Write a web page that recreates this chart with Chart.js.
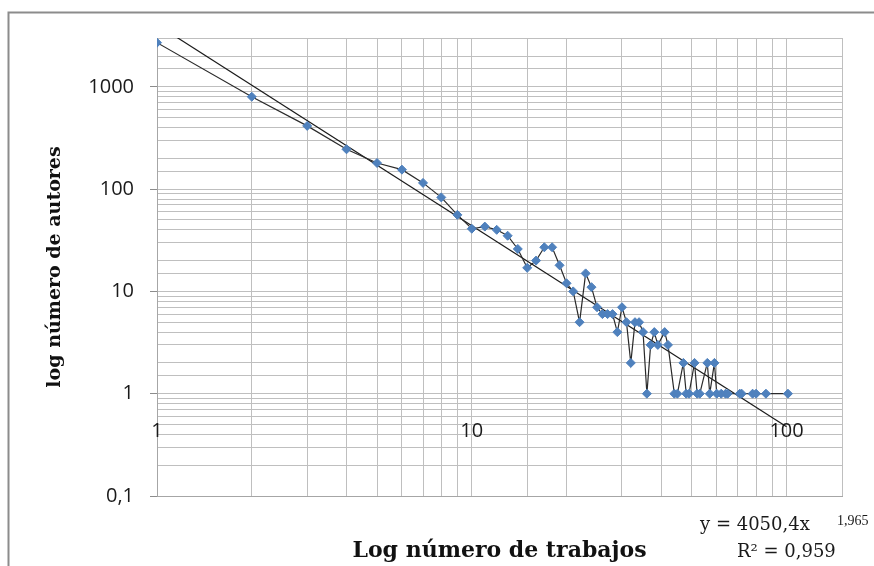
<!DOCTYPE html>
<html>
<head>
<meta charset="utf-8">
<script src="https://cdn.jsdelivr.net/npm/chart.js@4/dist/chart.umd.min.js"></script>
<style>
html,body{margin:0;padding:0;background:#fff;overflow:hidden}
canvas{display:block}
</style>
</head>
<body>
<canvas id="c" width="874" height="566"></canvas>
<script>
// ---- data ----
const trabajos = [1,2,3,4,5,6,7,8,9,10,11,12,13,14,15,16,17,18,19,20,
  21,22,23,24,25,26,27,28,29,30,31,32,33,34,35,36,37,38,39,41,
  42,44,45,47,48,49,51,52,53,56,57,59,60,62,64,65,71,72,78,80,86,101];
const autores = [2700,800,415,245,180,155,115,83,56,41,43,40,35,26,17,20,27,27,18,12,
  10,5,15,11,7,6,6,6,4,7,5,2,5,5,4,1,3,4,3,4,
  3,1,1,2,1,1,2,1,1,2,1,2,1,1,1,1,1,1,1,1,1,1];
// power trend line (y = 4050,4 x^-1,965) end points
const trendX = [1, 100];
const trendY = [4050.4, 0.476];
// axis ticks
const xTickValues = [1, 10, 100];
const xTickLabels = ['1', '10', '100'];
const yTickValues = [0.1, 1, 10, 100, 1000];
const yTickLabels = ['0,1', '1', '10', '100', '1000'];
// equation texts
const eqMain = 'y = 4050,4x';
const eqExp = '1,965';
const eqR2 = 'R\u00B2 = 0,959';

function yIndex(v) {
  for (let i = 0; i < yTickValues.length; i++) {
    if (Math.abs(v - yTickValues[i]) / yTickValues[i] < 1e-6) return i;
  }
  return -1;
}

const framePlugin = {
  id: 'frame',
  beforeDraw(chart) {
    const c = chart.ctx;
    c.save();
    c.fillStyle = '#ffffff';
    c.fillRect(0, 0, chart.width, chart.height);
    c.strokeStyle = '#8c8c8c';
    c.lineWidth = 2;
    c.beginPath();
    c.moveTo(8.5, chart.height);
    c.lineTo(8.5, 12.5);
    c.lineTo(chart.width, 12.5);
    c.stroke();
    c.restore();
  },
  beforeDatasetsDraw(chart) {
    const c = chart.ctx;
    const xs = chart.scales.x;
    c.save();
    c.font = '20px "Open Sans"';
    c.fillStyle = '#1a1a1a';
    c.textAlign = 'center';
    c.textBaseline = 'middle';
    xTickValues.forEach((v, i) => {
      c.fillText(xTickLabels[i], xs.getPixelForValue(v), 431);
    });
    c.restore();
  },
  afterDraw(chart) {
    const c = chart.ctx;
    c.save();
    c.fillStyle = '#1a1a1a';
    c.textAlign = 'left';
    c.textBaseline = 'alphabetic';
    c.font = '18px "DejaVu Serif"';
    c.fillText(eqMain, 700, 530);
    c.font = '14px "Liberation Serif"';
    c.fillText(eqExp, 837, 525);
    c.font = '18px "DejaVu Serif"';
    c.fillText(eqR2, 737, 557);
    c.restore();
  }
};

const gridColor = '#bfbfbf';

new Chart(document.getElementById('c'), {
  type: 'scatter',
  data: {
    datasets: [
      {
        label: 'autores',
        data: trabajos.map((x, i) => ({ x: x, y: autores[i] })),
        showLine: true,
        borderColor: '#2a2a2a',
        borderWidth: 1.2,
        pointStyle: 'rectRot',
        pointRadius: 4.5,
        pointBackgroundColor: '#4f81bd',
        pointBorderColor: '#4f81bd',
        pointBorderWidth: 1,
        tension: 0,
        order: 1
      },
      {
        label: 'tendencia',
        data: trendX.map((x, i) => ({ x: x, y: trendY[i] })),
        showLine: true,
        borderColor: '#1a1a1a',
        borderWidth: 1.2,
        pointRadius: 0,
        order: 2
      }
    ]
  },
  options: {
    responsive: false,
    animation: false,
    devicePixelRatio: 1,
    layout: { padding: { left: 0, top: 38, right: 32, bottom: 0 } },
    plugins: { legend: { display: false }, tooltip: { enabled: false } },
    scales: {
      x: {
        type: 'logarithmic',
        min: 1,
        max: 150,
        position: 'bottom',
        ticks: { display: false, autoSkip: false },
        grid: { color: gridColor, lineWidth: 1, drawTicks: false },
        border: { display: true, color: '#a6a6a6' },
        title: {
          display: true,
          text: 'Log número de trabajos',
          color: '#111111',
          font: { family: 'DejaVu Serif', weight: 'bold', size: 22 },
          padding: { top: 0, bottom: 2 }
        },
        afterFit(s) { s.height = 70; }
      },
      y: {
        type: 'logarithmic',
        min: 0.1,
        max: 3000,
        ticks: {
          autoSkip: false,
          padding: 16,
          color: '#1a1a1a',
          font: { family: 'Open Sans', size: 20 },
          callback: (v) => { const i = yIndex(v); return i >= 0 ? yTickLabels[i] : ''; }
        },
        grid: {
          color: gridColor,
          lineWidth: 1,
          tickLength: 7,
          tickColor: (ctx) => (ctx.tick && yIndex(ctx.tick.value) >= 0) ? '#8c8c8c' : 'rgba(0,0,0,0)'
        },
        border: { display: true, color: '#a6a6a6' },
        title: {
          display: true,
          text: 'log número de autores',
          color: '#111111',
          font: { family: 'DejaVu Serif', weight: 'bold', size: 19 },
          padding: { top: 44, bottom: 0 }
        },
        afterFit(s) { s.width = 157; }
      }
    }
  },
  plugins: [framePlugin]
});
</script>
</body>
</html>
